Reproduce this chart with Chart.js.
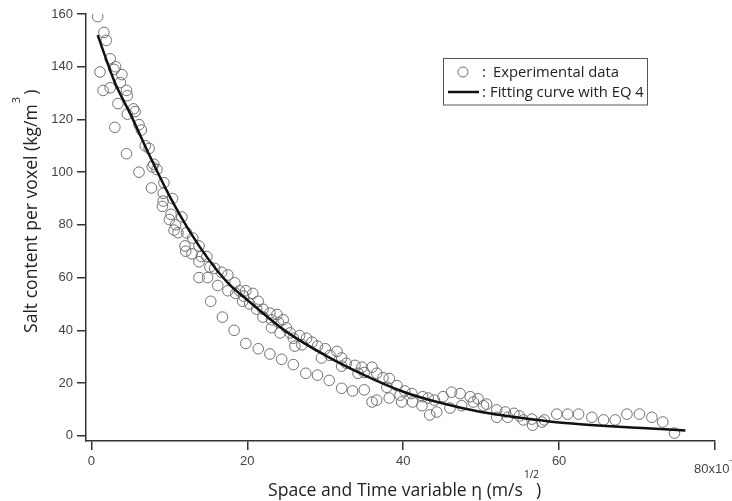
<!DOCTYPE html>
<html>
<head>
<meta charset="utf-8">
<script src="https://cdn.jsdelivr.net/npm/chart.js@4.4.1/dist/chart.umd.min.js"></script>
<style>
  html, body { margin: 0; padding: 0; background: #fff; }
  #wrap { width: 732px; height: 501px; }
</style>
</head>
<body>
<div id="wrap"><canvas id="myChart" width="732" height="501"></canvas></div>
<script>
// experimental data (eta x10^-3, salt content kg/m3)
const expX = [0.8, 1.6, 1.9, 1.1, 1.5, 2.4, 3.1, 2.9, 3.9, 3.7, 2.4, 4.5, 4.6, 3.4, 5.4, 5.6, 4.6, 3.0, 6.1, 6.4,
    4.5, 6.9, 7.4, 8.0, 8.4, 6.1, 7.8, 9.3, 7.7, 9.2, 9.2, 9.1, 10.4, 10.2, 10.0, 11.6, 10.8, 10.6, 11.1, 12.2,
    13.0, 12.0, 13.8, 12.1, 12.9, 13.8, 14.8, 14.1, 15.2, 15.8, 16.7, 17.5, 13.8, 14.9, 16.2, 17.5, 18.4, 19.0, 18.5, 19.5,
    15.3, 16.8, 18.3, 19.8, 19.8, 20.7, 19.4, 20.3, 21.4, 22.0, 21.2, 22.9, 23.8, 22.0, 23.1, 24.6, 24.0, 23.1, 25.0, 25.5,
    24.2, 26.7, 25.9, 27.6, 28.3, 29.0, 27.0, 26.1, 30.0, 31.5, 30.6, 29.5, 32.1, 32.7, 33.8, 32.1, 34.7, 36.0, 35.0, 34.2,
    36.6, 37.4, 38.2, 39.2, 37.9, 40.2, 39.6, 41.1, 42.5, 44.0, 42.4, 43.4, 44.3, 45.1, 46.2, 47.3, 48.6, 49.6, 50.7, 49.0,
    46.0, 47.5, 52.0, 52.0, 21.4, 22.9, 24.4, 25.9, 27.5, 29.0, 30.5, 32.1, 33.5, 35.0, 36.0, 36.6, 38.2, 39.8, 41.2, 43.2,
    50.3, 53.1, 53.4, 54.2, 54.9, 55.4, 56.5, 56.6, 57.8, 58.1, 59.7, 61.1, 62.5, 64.2, 65.7, 67.2, 68.7, 70.3, 71.9, 73.3, 74.8];
const expY = [159, 153, 150, 138, 131, 143, 140, 139, 137, 134, 132, 131, 129, 126, 124, 123, 122, 117, 118, 116,
    107, 110, 109, 103, 101, 100, 102, 96, 94, 92, 89, 87, 90, 84, 82, 83, 80, 78, 77, 77,
    75, 72, 72, 70, 69, 66, 68, 68, 64, 63.5, 62, 61, 60, 60, 57, 55, 58, 55, 54, 53,
    51, 45, 40, 35, 55, 54, 51, 50, 51, 48, 48, 46.5, 46, 45, 44, 44, 43, 41, 41, 39,
    39, 38, 37, 37, 35.5, 34, 34.5, 34, 33, 32, 30.5, 29.5, 29.5, 27.5, 26.7, 26.4, 26, 26, 24, 23.7,
    23.7, 22, 21.7, 19, 18.4, 17, 15.4, 16, 14.8, 13.5, 11.4, 7.9, 9, 14.8, 16.5, 16, 14.8, 14, 12, 12.8,
    10.5, 11.4, 9.8, 7, 33, 31, 29, 27, 23.7, 23, 21, 18, 17, 17.4, 12.8, 13.5, 14.3, 12.8, 12.8, 14.3,
    11.4, 9, 7, 8.5, 7.5, 6, 6.3, 4, 5.2, 6, 8.2, 8.2, 8.2, 7, 6, 6, 8.2, 8.2, 7, 5.2, 1];

// fitting curve with EQ 4
const fitX = [0.8, 3, 5, 7.5, 10, 12.5, 15, 17.5, 20, 25, 30, 35, 40, 45, 50, 55, 60, 65, 70, 76.2];
const fitY = [152, 134, 122, 106, 91, 78, 67, 58, 51.5, 39.5, 30.5, 23, 16.7, 12.3, 9, 6.8, 5, 3.9, 3, 2];

const xTicks = [0, 20, 40, 60, 80];
const yTicks = [0, 20, 40, 60, 80, 100, 120, 140, 160];

const axisColor = '#333';
const labelColor = '#444';

function fitSize(ctx, text, width, family) {
    ctx.font = '100px ' + family;
    return 100 * width / ctx.measureText(text).width;
}

// draws rotated (bottom-to-top) text with its baseline at screen x = bx, starting at screen y = by
function vText(ctx, text, bx, by) {
    ctx.save();
    ctx.translate(bx, by);
    ctx.rotate(-Math.PI / 2);
    ctx.fillText(text, 0, 0);
    ctx.restore();
}

const textPlugin = {
    id: 'textPlugin',
    afterDraw(chart) {
        const ctx = chart.ctx;
        const fam = '"Open Sans", sans-serif';
        ctx.save();
        ctx.fillStyle = '#222';
        ctx.textAlign = 'left';
        ctx.textBaseline = 'alphabetic';

        // x title
        const xMain = 'Space and Time variable \u03b7 (m/s';
        const ts = fitSize(ctx, xMain, 255, fam);
        ctx.font = ts + 'px ' + fam;
        ctx.fillText(xMain, 268, 496);
        let w = ctx.measureText(xMain).width;
        ctx.font = '10px ' + fam;
        ctx.fillText('1/2', 268 + w + 1, 478);
        ctx.font = ts + 'px ' + fam;
        ctx.fillText(')', 268 + w + 13, 496);

        // y title
        const yMain = 'Salt content per voxel (kg/m';
        ctx.font = ts + 'px ' + fam;
        vText(ctx, yMain, 37, 333);
        w = ctx.measureText(yMain).width;
        ctx.font = '11px ' + fam;
        vText(ctx, '3', 20, 333 - w - 1);
        ctx.font = ts + 'px ' + fam;
        vText(ctx, ' )', 37, 333 - w - 5);

        // last x tick label with exponent, cut at the edge
        ctx.fillStyle = labelColor;
        ctx.font = '13px "Liberation Sans", Arial, sans-serif';
        ctx.fillText('80x10', 694, 473);
        ctx.font = '9px "Liberation Sans", Arial, sans-serif';
        ctx.fillText('-3', 729, 463);

        // legend
        ctx.strokeStyle = '#555';
        ctx.lineWidth = 1;
        ctx.strokeRect(443.5, 58.5, 204, 46.5);
        ctx.beginPath();
        ctx.arc(463, 72, 5, 0, Math.PI * 2);
        ctx.strokeStyle = '#707070';
        ctx.stroke();
        ctx.beginPath();
        ctx.moveTo(448, 92);
        ctx.lineTo(479, 92);
        ctx.strokeStyle = '#111';
        ctx.lineWidth = 2.5;
        ctx.stroke();
        const ls = fitSize(ctx, 'Fitting curve with EQ 4', 154, fam);
        ctx.font = ls + 'px ' + fam;
        ctx.fillStyle = '#222';
        ctx.fillText(':', 482, 77);
        ctx.fillText('Experimental data', 493, 77);
        ctx.fillText(':', 482, 97);
        ctx.fillText('Fitting curve with EQ 4', 490, 97);
        ctx.restore();
    }
};

const ctx = document.getElementById('myChart');
const chart = new Chart(ctx, {
    type: 'scatter',
    data: {
        datasets: [{
            type: 'line',
            label: 'Fitting curve with EQ 4',
            data: fitX.map((x, i) => ({ x: x, y: fitY[i] })),
            borderColor: '#111',
            borderWidth: 2.5,
            pointRadius: 0,
            fill: false,
            cubicInterpolationMode: 'monotone'
        }, {
            label: 'Experimental data',
            data: expX.map((x, i) => ({ x: x, y: expY[i] })),
            pointStyle: 'circle',
            pointRadius: 5.3,
            pointBorderWidth: 1,
            pointBorderColor: '#707070',
            pointBackgroundColor: 'rgba(0,0,0,0)'
        }]
    },
    options: {
        responsive: false,
        animation: false,
        devicePixelRatio: 1,
        layout: { padding: { top: 14, right: 17, left: 0, bottom: 0 } },
        plugins: {
            legend: { display: false },
            tooltip: { enabled: false }
        },
        scales: {
            x: {
                type: 'linear',
                min: -0.7,
                max: 80,
                afterBuildTicks: (scale) => { scale.ticks = xTicks.map(v => ({ value: v })); },
                afterFit: (scale) => { scale.height = 60; },
                border: { display: true, color: axisColor, width: 1.5 },
                grid: { drawOnChartArea: false, drawTicks: true, tickLength: 9, color: axisColor, lineWidth: 1.5 },
                ticks: {
                    padding: 4,
                    color: labelColor,
                    font: { family: '"Liberation Sans", Arial, sans-serif', size: 13 },
                    maxRotation: 0,
                    callback: (v) => v === 80 ? '' : String(v)
                }
            },
            y: {
                type: 'linear',
                min: -2,
                max: 160,
                afterBuildTicks: (scale) => { scale.ticks = yTicks.map(v => ({ value: v })); },
                afterFit: (scale) => { scale.width = 86; },
                border: { display: true, color: axisColor, width: 1.5 },
                grid: { drawOnChartArea: false, drawTicks: true, tickLength: 9, color: axisColor, lineWidth: 1.5 },
                ticks: {
                    padding: 4,
                    color: labelColor,
                    font: { family: '"Liberation Sans", Arial, sans-serif', size: 13 }
                }
            }
        }
    },
    plugins: [textPlugin]
});
</script>
</body>
</html>
